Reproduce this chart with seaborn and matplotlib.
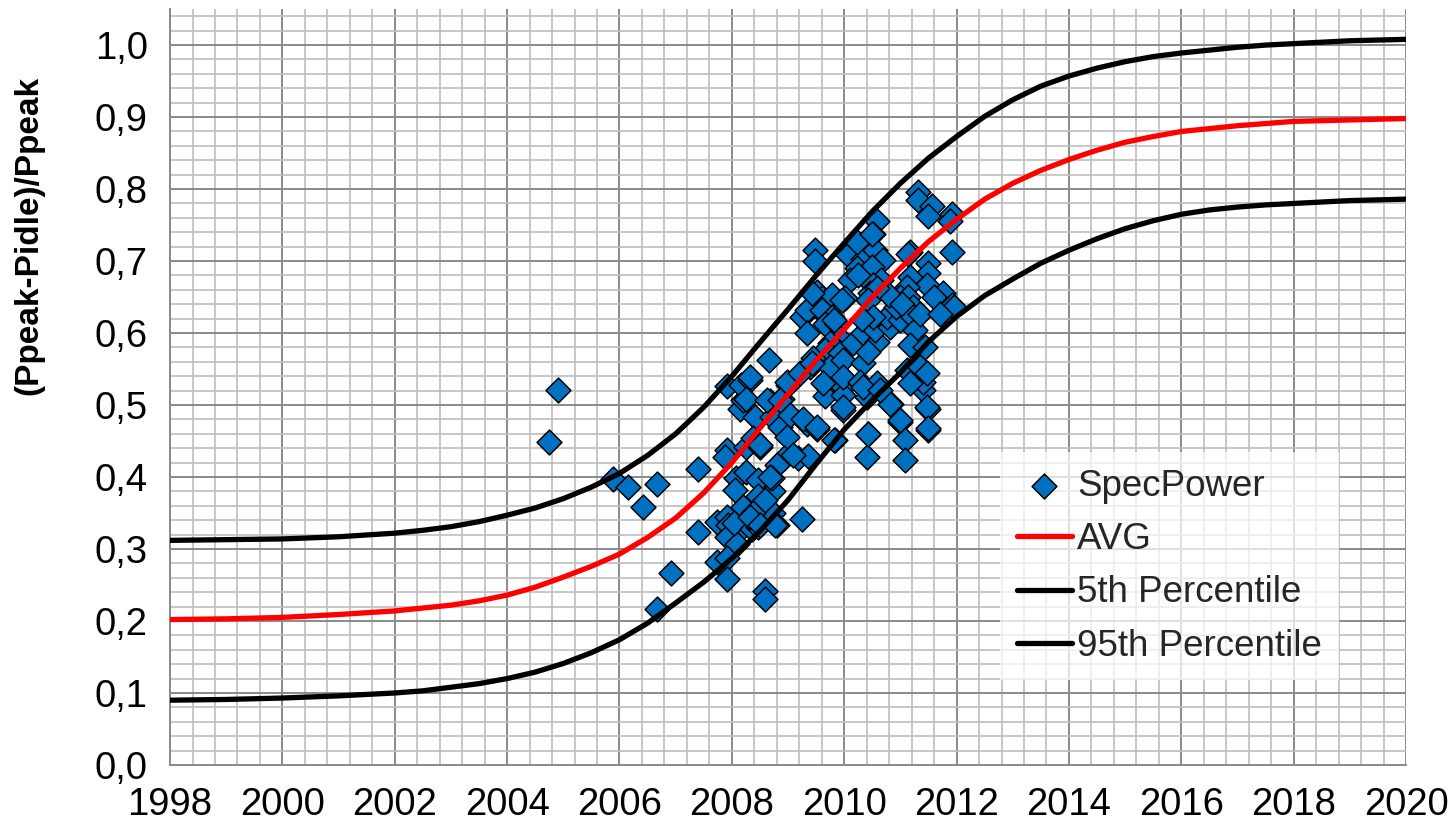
import pandas as pd
import matplotlib
matplotlib.use("Agg")
import matplotlib.pyplot as plt
from matplotlib.ticker import MultipleLocator, FuncFormatter
import seaborn as sns

# curve values (year -> value)
curve_years = [1998, 1999, 2000, 2001, 2002, 2002.5, 2003, 2003.5, 2004, 2004.5,
               2005, 2005.5, 2006, 2006.5, 2007, 2007.5, 2008, 2008.5, 2009,
               2009.5, 2010, 2010.5, 2011, 2011.5, 2012, 2012.5, 2013, 2013.5,
               2014, 2014.5, 2015, 2015.5, 2016, 2016.5, 2017, 2017.5, 2018,
               2019, 2020]
avg_vals = [0.202, 0.203, 0.205, 0.209, 0.214, 0.218, 0.222, 0.228, 0.236, 0.247,
            0.261, 0.276, 0.293, 0.316, 0.343, 0.378, 0.420, 0.468, 0.515,
            0.562, 0.605, 0.650, 0.690, 0.727, 0.758, 0.786, 0.808, 0.826,
            0.841, 0.854, 0.865, 0.873, 0.880, 0.884, 0.888, 0.891, 0.894,
            0.896, 0.898]
p95_vals = [0.312, 0.313, 0.314, 0.317, 0.322, 0.326, 0.331, 0.338, 0.347, 0.357,
            0.370, 0.386, 0.405, 0.430, 0.460, 0.497, 0.540, 0.587, 0.633,
            0.680, 0.725, 0.769, 0.808, 0.843, 0.873, 0.901, 0.924, 0.943,
            0.957, 0.968, 0.977, 0.984, 0.989, 0.993, 0.997, 1.000, 1.002,
            1.006, 1.008]
p5_vals = [0.090, 0.091, 0.093, 0.096, 0.100, 0.103, 0.108, 0.113, 0.120, 0.129,
           0.141, 0.156, 0.174, 0.197, 0.225, 0.254, 0.287, 0.325, 0.368,
           0.418, 0.466, 0.507, 0.545, 0.588, 0.623, 0.652, 0.675, 0.697,
           0.715, 0.731, 0.745, 0.756, 0.765, 0.771, 0.775, 0.778, 0.780,
           0.784, 0.786]

# SpecPower measurements
spec_year = [
    2004.74, 2004.91, 2005.89, 2006.15, 2006.66, 2006.41, 2007.40, 2007.40, 2006.91, 2006.66,
    2007.91, 2007.88, 2008.08, 2008.05, 2008.20, 2007.73, 2007.91, 2007.94, 2008.15, 2007.91,
    2008.09, 2007.73, 2007.91, 2007.92, 2008.15, 2008.20, 2007.91, 2008.17, 2008.32, 2008.26,
    2008.41, 2008.68, 2008.89, 2009.00, 2008.72, 2008.86, 2009.04, 2008.98, 2009.33, 2009.51,
    2009.18, 2009.36, 2008.92, 2009.84, 2009.98, 2009.69, 2009.98, 2008.26, 2008.50, 2008.38,
    2008.26, 2008.47, 2008.74, 2008.80, 2008.71, 2008.47, 2008.74, 2008.38, 2008.03, 2008.35,
    2008.47, 2008.80, 2009.24, 2008.59, 2008.59, 2008.62, 2008.86, 2009.27, 2009.51, 2008.50,
    2009.08, 2009.66, 2009.98, 2010.40, 2010.43, 2010.40, 2010.84, 2010.99, 2011.08, 2011.08,
    2011.50, 2011.50, 2011.41, 2008.68, 2008.59, 2008.32, 2008.50, 2008.77,
    2011.32, 2011.32, 2011.56, 2011.50, 2011.91, 2011.88, 2011.91, 2010.58, 2010.52, 2010.25,
    2009.48, 2009.48, 2010.07, 2010.34, 2010.55, 2010.69, 2010.22, 2010.49, 2010.10, 2010.25,
    2010.66, 2011.17, 2011.50, 2011.50, 2011.17, 2011.47, 2011.11, 2010.99, 2011.14, 2011.23,
    2011.76, 2011.91, 2010.52, 2010.46, 2009.51, 2009.60, 2009.78, 2010.02, 2009.51, 2009.24,
    2009.33, 2009.60, 2009.78, 2009.66, 2009.87, 2009.33, 2009.90, 2009.75, 2009.66, 2009.93,
    2009.45, 2009.39, 2009.75, 2009.98, 2010.34, 2010.16, 2010.34, 2010.58, 2010.55, 2010.82,
    2010.76, 2010.99, 2010.93, 2010.79, 2011.02, 2011.23, 2011.26, 2011.17, 2010.58, 2010.43,
    2010.52, 2010.31, 2010.43, 2008.67, 2008.32, 2008.98, 2009.21, 2009.42, 2009.63, 2009.98,
    2010.28, 2010.58, 2011.11, 2011.29, 2011.41, 2009.42, 2011.14, 2011.35, 2011.47, 2011.17,
    2011.47, 2011.50, 2010.99, 2010.43, 2009.81, 2009.98, 2010.34, 2010.82, 2010.63, 2011.35,
    2011.44, 2009.81, 2009.96, 2010.22, 2010.49, 2011.60, 2011.95, 2011.70,
]
spec_val = [
    0.448, 0.521, 0.397, 0.386, 0.390, 0.359, 0.411, 0.323, 0.266, 0.217,
    0.438, 0.428, 0.398, 0.382, 0.359, 0.338, 0.345, 0.333, 0.326, 0.317,
    0.307, 0.282, 0.287, 0.259, 0.495, 0.507, 0.527, 0.528, 0.535, 0.509,
    0.484, 0.505, 0.509, 0.528, 0.484, 0.470, 0.486, 0.456, 0.474, 0.467,
    0.427, 0.429, 0.426, 0.451, 0.493, 0.525, 0.525, 0.442, 0.442, 0.454,
    0.407, 0.396, 0.380, 0.417, 0.398, 0.373, 0.350, 0.350, 0.336, 0.328,
    0.331, 0.333, 0.341, 0.242, 0.231, 0.507, 0.507, 0.481, 0.470, 0.444,
    0.431, 0.512, 0.514, 0.511, 0.460, 0.428, 0.502, 0.477, 0.451, 0.424,
    0.495, 0.465, 0.521, 0.400, 0.368, 0.345, 0.333, 0.333,
    0.796, 0.785, 0.776, 0.762, 0.766, 0.755, 0.713, 0.755, 0.738, 0.724,
    0.715, 0.700, 0.708, 0.703, 0.715, 0.701, 0.690, 0.692, 0.674, 0.680,
    0.674, 0.713, 0.697, 0.683, 0.678, 0.667, 0.664, 0.650, 0.650, 0.636,
    0.655, 0.639, 0.667, 0.655, 0.657, 0.648, 0.653, 0.648, 0.636, 0.622,
    0.632, 0.632, 0.622, 0.613, 0.613, 0.600, 0.595, 0.586, 0.576, 0.572,
    0.565, 0.553, 0.553, 0.5625, 0.558, 0.586, 0.600, 0.588, 0.604, 0.609,
    0.622, 0.618, 0.636, 0.653, 0.641, 0.622, 0.604, 0.583, 0.662, 0.646,
    0.622, 0.620, 0.574, 0.5625, 0.539, 0.532, 0.544, 0.558, 0.530, 0.539,
    0.532, 0.530, 0.549, 0.539, 0.532, 0.655, 0.710, 0.553, 0.544, 0.530,
    0.497, 0.4675, 0.479, 0.460, 0.451, 0.497, 0.525, 0.502, 0.521, 0.627,
    0.580, 0.618, 0.646, 0.727, 0.738, 0.650, 0.636, 0.627,
]

spec = pd.DataFrame({"year": spec_year, "val": spec_val})
curves = pd.DataFrame({"year": curve_years, "avg": avg_vals,
                       "p5": p5_vals, "p95": p95_vals})

sns.set_style("white")
plt.rcParams["font.family"] = ["Liberation Sans", "DejaVu Sans"]

fig = plt.figure(figsize=(14.51, 8.27), dpi=100)
ax = fig.add_axes([0.1172, 0.075, 0.8518, 0.914])

sns.scatterplot(data=spec, x="year", y="val", marker="D", s=160,
                color="#0070C0", edgecolor="black", linewidth=1.1,
                label="SpecPower", ax=ax, zorder=3)
sns.lineplot(data=curves, x="year", y="avg", color="#FF0000", lw=3.8,
             label="AVG", ax=ax, zorder=4)
sns.lineplot(data=curves, x="year", y="p5", color="black", lw=3.8,
             label="5th Percentile", ax=ax, zorder=4)
sns.lineplot(data=curves, x="year", y="p95", color="black", lw=3.8,
             label="95th Percentile", ax=ax, zorder=4)

ax.set_xlim(1998, 2020)
ax.set_ylim(0, 1.05)
ax.xaxis.set_major_locator(MultipleLocator(2))
ax.xaxis.set_minor_locator(MultipleLocator(0.4))
ax.yaxis.set_major_locator(MultipleLocator(0.1))
ax.yaxis.set_minor_locator(MultipleLocator(0.02))
ax.yaxis.set_major_formatter(FuncFormatter(lambda v, p: f"{v:.1f}".replace(".", ",")))
ax.xaxis.set_major_formatter(FuncFormatter(lambda v, p: f"{int(round(v))}"))
ax.set_ylim(0, 1.05)

ax.grid(which="major", color="#8a8a8a", lw=1.4)
ax.grid(which="minor", color="#bdbdbd", lw=1.2)
ax.set_axisbelow(True)
ax.tick_params(which="major", direction="out", length=11, width=1.4,
               color="#8a8a8a", labelsize=27.5, labelcolor="black", pad=5)
ax.tick_params(which="minor", length=0)
for s in ["top", "right"]:
    ax.spines[s].set_visible(False)
for s in ["left", "bottom"]:
    ax.spines[s].set_color("#8a8a8a")
    ax.spines[s].set_linewidth(1.4)

ax.set_xlabel("")
ax.set_ylabel("(Ppeak-Pidle)/Ppeak", fontsize=24, fontweight="bold", color="black")
ax.yaxis.set_label_coords(-0.102, 0.70)

leg = ax.legend(loc="upper left", bbox_to_anchor=(0.6715, 0.414), fontsize=26.5,
                frameon=True, fancybox=False, handlelength=1.5,
                handletextpad=0.15, labelspacing=0.5, borderpad=0.45,
                borderaxespad=0)
leg.get_frame().set_facecolor("white")
leg.get_frame().set_alpha(0.72)
leg.get_frame().set_edgecolor("none")

fig.savefig("out.png", dpi=100)
